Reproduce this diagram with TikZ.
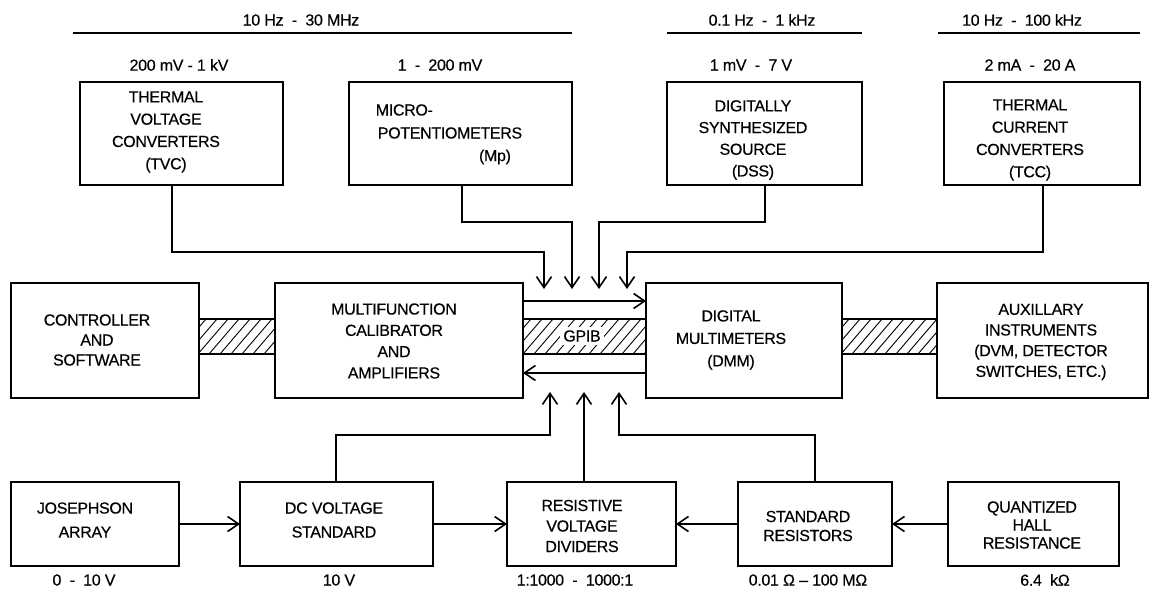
\documentclass[tikz,border=0pt]{standalone}
\usepackage{fontspec}
\setmainfont{Liberation Sans}[FakeBold=0.4,LetterSpace=-2]
\usetikzlibrary{arrows.meta}
\begin{document}
\begin{tikzpicture}[x=1pt,y=-1pt,line width=1.6pt,
  box/.style={draw,rectangle,inner sep=0pt,outer sep=0pt},
  txt/.style={font=\fontsize{16}{22}\selectfont,align=center,inner sep=0pt},
  arr/.style={-{Straight Barb[length=11pt,width=15pt]},line width=1.6pt},
  hatchline/.style={line width=0.9pt},
  freq/.style={line width=2.2pt}]
\useasboundingbox (0,0) rectangle (1155,591);

% ---------- top labels ----------
\node[txt] (f1) at (301,20) {10 Hz \ - \ 30 MHz};
\node[txt] (f2) at (762,20) {0.1 Hz \ - \ 1 kHz};
\node[txt] (f3) at (1022,20) {10 Hz \ - \ 100 kHz};
\draw[freq] (73,33) -- (572,33);
\draw[freq] (667,33) -- (862,33);
\draw[freq] (938,33) -- (1140,33);

\node[txt] (r1) at (179,65) {200 mV - 1 kV};
\node[txt] (r2) at (440,65) {1 \ - \ 200 mV};
\node[txt] (r3) at (751,65) {1 mV \ - \ 7 V};
\node[txt] (r4) at (1030,65) {2 mA \ - \ 20 A};

% ---------- top boxes ----------
\node[box,minimum width=203,minimum height=103] (tvc) at (181.5,133.5) {};
\node[txt,font=\fontsize{16}{22.3}\selectfont] (tvct) at (166,132) {THERMAL\\VOLTAGE\\CONVERTERS\\(TVC)};
\node[box,minimum width=223,minimum height=103] (mp) at (460.5,133.5) {};
\node[txt,anchor=west] (mpt1) at (375,110) {MICRO-};
\node[txt] (mpt2) at (450,133) {POTENTIOMETERS};
\node[txt] (mpt3) at (495,157) {(Mp)};
\node[box,minimum width=195,minimum height=103] (dss) at (764.5,133.5) {};
\node[txt,font=\fontsize{16}{21.7}\selectfont] (dsst) at (753,140) {DIGITALLY\\SYNTHESIZED\\SOURCE\\(DSS)};
\node[box,minimum width=196,minimum height=103] (tcc) at (1042,133.5) {};
\node[txt,font=\fontsize{16}{22.3}\selectfont] (tcct) at (1030,140) {THERMAL\\CURRENT\\CONVERTERS\\(TCC)};

% ---------- middle row ----------
\node[box,minimum width=188,minimum height=115] (ctrl) at (105,340.5) {};
\node[txt,font=\fontsize{16}{20}\selectfont] (ctrlt) at (97,340) {CONTROLLER\\AND\\SOFTWARE};
\node[box,minimum width=248,minimum height=115] (mca) at (399,340.5) {};
\node[txt,font=\fontsize{16}{21.3}\selectfont] (mcat) at (394,341) {MULTIFUNCTION\\CALIBRATOR\\AND\\AMPLIFIERS};
\node[box,minimum width=196,minimum height=115] (dmm) at (744,340.5) {};
\node[txt,font=\fontsize{16}{22.5}\selectfont] (dmmt) at (731,340) {DIGITAL\\MULTIMETERS\\(DMM)};
\node[box,minimum width=211,minimum height=115] (aux) at (1042.5,340.5) {};
\node[txt,font=\fontsize{16}{20.7}\selectfont] (auxt) at (1041,342) {AUXILLARY\\INSTRUMENTS\\(DVM, DETECTOR\\SWITCHES, ETC.)};

% ---------- hatched bands ----------
\begin{scope}
  \clip (199,319) rectangle (275,354);
  \foreach \i in {0,...,11} \draw[hatchline] ({165+\i*11},354) -- ++(30,-35);
\end{scope}
\draw (ctrl.east |- 0,319) -- (mca.west |- 0,319);
\draw (ctrl.east |- 0,354) -- (mca.west |- 0,354);

\begin{scope}
  \clip (523,319) rectangle (646,354);
  \foreach \i in {0,...,15} \draw[hatchline] ({490+\i*11},354) -- ++(30,-35);
\end{scope}
\draw (mca.east |- 0,319) -- (dmm.west |- 0,319);
\draw (mca.east |- 0,354) -- (dmm.west |- 0,354);
\node[txt,fill=white,inner sep=3pt] (gpib) at (582,336) {GPIB};

\begin{scope}
  \clip (842,319) rectangle (937,354);
  \foreach \i in {0,...,12} \draw[hatchline] ({808+\i*11},354) -- ++(30,-35);
\end{scope}
\draw (dmm.east |- 0,319) -- (aux.west |- 0,319);
\draw (dmm.east |- 0,354) -- (aux.west |- 0,354);

% GPIB arrows
\draw[arr] (mca.east |- 0,301) -- (dmm.west |- 0,301);
\draw[arr] (dmm.west |- 0,373) -- (mca.east |- 0,373);

% ---------- arrow end points ----------
\coordinate (a1) at (544,289);
\coordinate (a2) at (572,289);
\coordinate (a3) at (599,289);
\coordinate (a4) at (627,289);
\coordinate (b1) at (550,392);
\coordinate (b2) at (584,392);
\coordinate (b3) at (619,392);

\draw[arr] ([xshift=-9.5]tvc.south) -- ++(0,67) -| (a1);
\draw[arr] ([xshift=1.5]mp.south) -- ++(0,37) -| (a2);
\draw[arr] ([xshift=0.5]dss.south) -- ++(0,37) -| (a3);
\draw[arr] ([xshift=1]tcc.south) -- ++(0,67) -| (a4);

% ---------- bottom row ----------
\node[box,minimum width=168,minimum height=84] (jos) at (95,524) {};
\node[txt,font=\fontsize{16}{24}\selectfont] (jost) at (85,520) {JOSEPHSON\\ARRAY};
\node[box,minimum width=193,minimum height=84] (dc) at (336.5,524) {};
\node[txt,font=\fontsize{16}{24}\selectfont] (dct) at (334,520) {DC VOLTAGE\\STANDARD};
\node[box,minimum width=169,minimum height=84] (rvd) at (591.5,524) {};
\node[txt,font=\fontsize{16}{20.5}\selectfont] (rvdt) at (582,526) {RESISTIVE\\VOLTAGE\\DIVIDERS};
\node[box,minimum width=154,minimum height=84] (sr) at (815,524) {};
\node[txt,font=\fontsize{16}{19}\selectfont] (srt) at (808,526) {STANDARD\\RESISTORS};
\node[box,minimum width=171,minimum height=84] (qhr) at (1033.5,524) {};
\node[txt,font=\fontsize{16}{18}\selectfont] (qhrt) at (1032,525) {QUANTIZED\\HALL\\RESISTANCE};

\node[txt] (l1) at (84,580) {0 \ - \ 10 V};
\node[txt] (l2) at (339,580) {10 V};
\node[txt] (l3) at (575,580) {1:1000 \ - \ 1000:1};
\node[txt] (l4) at (808,580) {0.01 Ω – 100 MΩ};
\node[txt] (l5) at (1045,580) {6.4 \ kΩ};

\draw[arr] (jos.east) -- (dc.west);
\draw[arr] (dc.east) -- (rvd.west);
\draw[arr] (sr.west) -- (rvd.east);
\draw[arr] (qhr.west) -- (sr.east);

\draw[arr] ([xshift=-0.5]dc.north) -- ++(0,-47) -| (b1);
\draw[arr] (b2 |- rvd.north) -- (b2);
\draw[arr] (sr.north) -- ++(0,-47) -| (b3);
\end{tikzpicture}
\end{document}
